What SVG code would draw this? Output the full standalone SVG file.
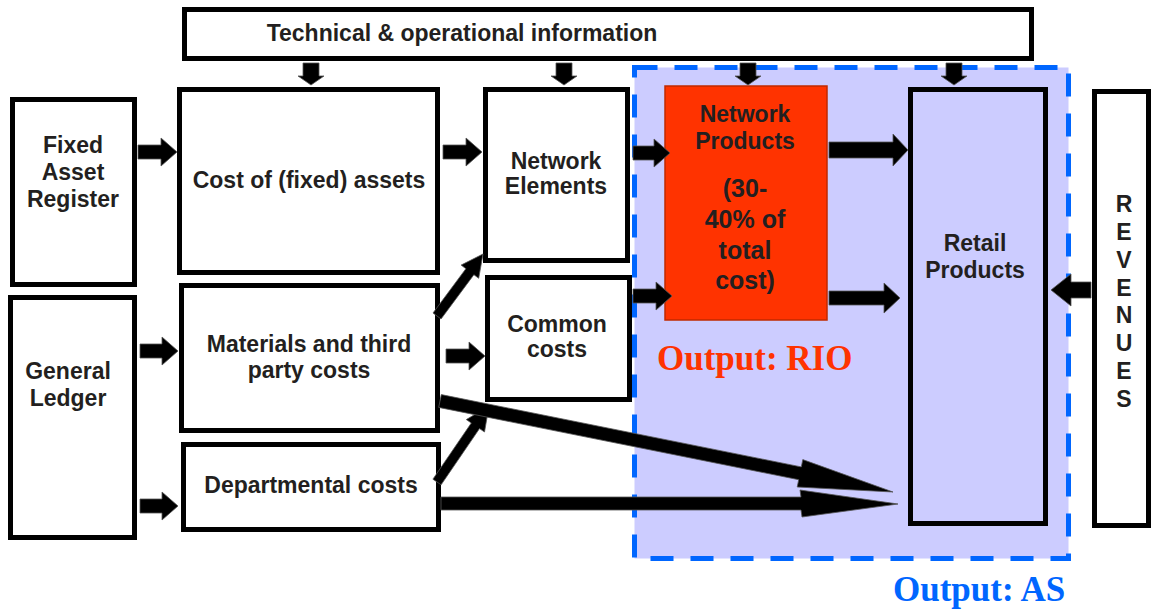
<svg xmlns="http://www.w3.org/2000/svg" width="1152" height="609" viewBox="0 0 1152 609">
<style>
.box{fill:#fff;stroke:#000;stroke-width:5}
.t{font-family:"Liberation Sans",Arial,Helvetica,sans-serif;font-weight:bold;font-size:23px;fill:#231f20;text-anchor:middle}
.big{font-size:25px}
.out{font-family:"Liberation Serif","Times New Roman",serif;font-weight:bold;font-size:35px}
.arr{fill:#000;stroke:#555;stroke-width:0.8;stroke-linejoin:miter}
</style>
<rect width="1152" height="609" fill="#fff"/>
<g id="output-as">
<rect x="634.5" y="67.5" width="434" height="491" fill="#ccccff" stroke="#0066ff" stroke-width="5" stroke-dasharray="23 17"/>
<text class="out" x="893" y="601" fill="#0066ff">Output: AS</text>
</g>
<g id="tech">
<rect class="box" x="184.5" y="9.5" width="847" height="49"/>
<text class="t" x="462" y="41">Technical &amp; operational information</text>
</g>
<g id="far">
<rect class="box" x="12.5" y="99.5" width="122" height="185"/>
<text class="t" x="73" y="153">Fixed</text>
<text class="t" x="73" y="180">Asset</text>
<text class="t" x="73" y="207">Register</text>
</g>
<g id="gl">
<rect class="box" x="10.5" y="297.5" width="124" height="240"/>
<text class="t" x="68" y="379">General</text>
<text class="t" x="68" y="406">Ledger</text>
</g>
<g id="cost">
<rect class="box" x="179.5" y="89.5" width="258" height="183"/>
<text class="t" x="309" y="188">Cost of (fixed) assets</text>
</g>
<g id="mat">
<rect class="box" x="181.5" y="285.5" width="256" height="145"/>
<text class="t" x="309" y="352">Materials and third</text>
<text class="t" x="309" y="378">party costs</text>
</g>
<g id="dept">
<rect class="box" x="183.5" y="444.5" width="255" height="85"/>
<text class="t" x="311" y="493">Departmental costs</text>
</g>
<g id="ne">
<rect class="box" x="485.5" y="89.5" width="142" height="171"/>
<text class="t" x="556" y="169">Network</text>
<text class="t" x="556" y="194">Elements</text>
</g>
<g id="common">
<rect class="box" x="487.5" y="277.5" width="142" height="122"/>
<text class="t" x="557" y="332">Common</text>
<text class="t" x="557" y="357">costs</text>
</g>
<g id="np">
<rect x="665" y="86" width="162" height="234" fill="#ff3300" stroke="#c02a00" stroke-width="1.5"/>
<text class="t" x="745" y="122">Network</text>
<text class="t" x="745" y="149">Products</text>
<text class="t big" x="745" y="197">(30-</text>
<text class="t big" x="745" y="228">40% of</text>
<text class="t big" x="745" y="259">total</text>
<text class="t big" x="745" y="289">cost)</text>
</g>
<g id="rio">
<text class="out" x="657" y="370" fill="#ff3300">Output: RIO</text>
</g>
<g id="retail">
<rect x="910.5" y="89.5" width="135" height="434" fill="#ccccff" stroke="#000" stroke-width="5"/>
<text class="t" x="975" y="251">Retail</text>
<text class="t" x="975" y="278">Products</text>
</g>
<g id="rev">
<rect class="box" x="1094.5" y="91.5" width="54" height="434"/>
<text class="t" x="1124" y="212">R</text>
<text class="t" x="1124" y="240">E</text>
<text class="t" x="1124" y="268">V</text>
<text class="t" x="1124" y="296">E</text>
<text class="t" x="1124" y="323">N</text>
<text class="t" x="1124" y="351">U</text>
<text class="t" x="1124" y="379">E</text>
<text class="t" x="1124" y="407">S</text>
</g>
<g id="connectors">
<!-- down arrows from technical info -->
<polygon class="arr" points="303,63 319,63 319,76 324,76 311,85 298,76 303,76"/>
<polygon class="arr" points="556,63 572,63 572,76 577,76 564,85 551,76 556,76"/>
<polygon class="arr" points="740,63 756,63 756,76 761,76 748,85 735,76 740,76"/>
<polygon class="arr" points="946,63 962,63 962,76 967,76 954,85 941,76 946,76"/>
<!-- right block arrows -->
<polygon class="arr" points="138,145 161,145 161,138 177,152 161,166 161,159 138,159"/>
<polygon class="arr" points="443,145 466,145 466,138 482,152 466,166 466,159 443,159"/>
<polygon class="arr" points="633,146 654,146 654,139 670,153 654,167 654,160 633,160"/>
<polygon class="arr" points="829,142 893,142 893,134 908,150 893,166 893,158 829,158"/>
<polygon class="arr" points="633,289 656,289 656,282 672,296 656,310 656,303 633,303"/>
<polygon class="arr" points="829,291 884,291 884,283 900,298 884,313 884,305 829,305"/>
<polygon class="arr" points="140,344 162,344 162,337 178,351 162,365 162,358 140,358"/>
<polygon class="arr" points="140,499 162,499 162,492 178,506 162,520 162,513 140,513"/>
<polygon class="arr" points="446,349 469,349 469,342 485,356 469,370 469,363 446,363"/>
<!-- revenues to retail -->
<polygon class="arr" points="1091,282 1071,282 1071,274 1051,290 1071,306 1071,298 1091,298"/>
<!-- diagonal arrows -->
<polygon class="arr" points="441,319 473.9,274.7 478.7,278.3 483,254 461.1,265.1 465.9,268.7 433,313"/>
<polygon class="arr" points="441.1,484.8 479.5,428.6 484.5,432 489,406 466.3,419.6 471.3,423 432.9,479.2"/>
<!-- long arrows to retail -->
<polygon class="arr" points="441.3,394.6 801.3,466.9 802.8,459.6 893,492 797.2,487 798.7,479.7 438.7,407.4"/>
<polygon class="arr" points="441,497 801,497 800,490 898,504 802,517 801,510 441,510"/>
</g>
</svg>
